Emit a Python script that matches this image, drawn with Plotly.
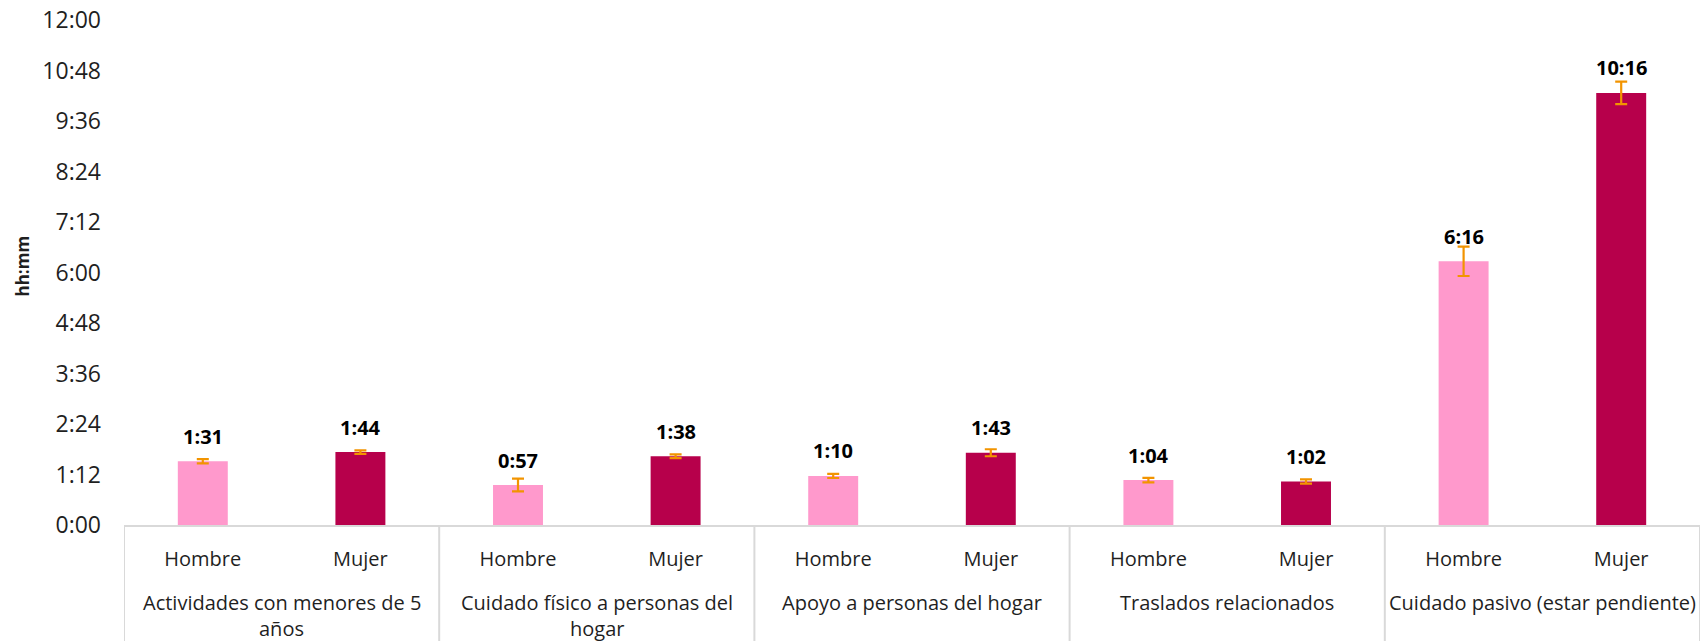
import plotly.graph_objects as go

# ---- data ----
groups = [
    "Actividades con menores de 5\naños",
    "Cuidado físico a personas del\nhogar",
    "Apoyo a personas del hogar",
    "Traslados relacionados",
    "Cuidado pasivo (estar pendiente)",
]
sexes = ["Hombre", "Mujer"]
hombre_min = [91, 57, 70, 64, 376]      # minutes
mujer_min = [104, 98, 103, 62, 616]
hombre_err = [3, 9, 3, 3.3, 21]
mujer_err = [2.5, 2.6, 5, 3, 16]
y_tickvals = [0, 72, 144, 216, 288, 360, 432, 504, 576, 648, 720]
y_ticktext = ["0:00", "1:12", "2:24", "3:36", "4:48", "6:00", "7:12", "8:24", "9:36", "10:48", "12:00"]

C_H = "#FF99CC"
C_M = "#B7004B"
C_ERR = "#F29400"
C_AX = "#D9D9D9"
C_TXT = "#1F1F1F"
FONT = "Open Sans"


def fmt(m):
    return f"{m // 60}:{m % 60:02d}"


n = len(groups)
fig = go.Figure()
for si, (sex, vals, errs, col) in enumerate([("Hombre", hombre_min, hombre_err, C_H),
                                             ("Mujer", mujer_min, mujer_err, C_M)]):
    fig.add_trace(go.Bar(
        x=[g * 2 + si for g in range(n)],
        y=vals,
        width=0.317,
        marker=dict(color=col, line=dict(width=0)),
        error_y=dict(type="data", array=errs, visible=True, color=C_ERR,
                     thickness=2.2, width=6),
        name=sex,
        showlegend=False,
    ))

ann = []
shapes = []
# value labels
for g in range(n):
    for si, vals in enumerate([hombre_min, mujer_min]):
        ann.append(dict(
            x=g * 2 + si, y=vals[g], xref="x", yref="y",
            text=f"<b>{fmt(vals[g])}</b>", showarrow=False,
            yanchor="middle", yshift=25,
            font=dict(family=FONT, size=20, color="#000000"),
        ))
# group labels (one annotation per line)
for g, name in enumerate(groups):
    for li, line in enumerate(name.split("\n")):
        ann.append(dict(
            x=g * 2 + 0.5, y=0, xref="x", yref="paper",
            text=line, showarrow=False, yanchor="top", yshift=-63 - 26 * li,
            borderpad=0,
            font=dict(family=FONT, size=20, color=C_TXT),
        ))
# dividers
for g in range(n + 1):
    shapes.append(dict(
        type="line", xref="x", yref="paper",
        x0=g * 2 - 0.5, x1=g * 2 - 0.5, y0=0, y1=-0.35,
        line=dict(color=C_AX, width=2),
    ))
# y-axis title
ann.append(dict(
    x=0, y=0.5, xref="paper", yref="paper", text="<b>hh:mm</b>",
    textangle=-90, showarrow=False, xanchor="center", yanchor="middle",
    xshift=-102, yshift=6,
    font=dict(family=FONT, size=17, color=C_TXT),
))

fig.update_layout(
    width=1700, height=641,
    margin=dict(l=124, r=0, t=20, b=116, autoexpand=False),
    plot_bgcolor="white", paper_bgcolor="white",
    barmode="overlay",
    annotations=ann,
    shapes=shapes,
    font=dict(family=FONT, color=C_TXT),
)
fig.update_xaxes(
    range=[-0.5, 2 * n - 0.5],
    tickmode="array", tickvals=list(range(2 * n)), ticktext=sexes * n,
    showline=True, linecolor=C_AX, linewidth=2,
    tickfont=dict(family=FONT, size=20, color=C_TXT),
    ticks="", ticklabelstandoff=15,
    showgrid=False, zeroline=False,
)
fig.update_yaxes(
    range=[0, 720],
    tickmode="array", tickvals=y_tickvals, ticktext=y_ticktext,
    tickfont=dict(family=FONT, size=23, color=C_TXT),
    showgrid=False, zeroline=False, showline=False,
    ticks="", ticklabelstandoff=22, ticklabeloverflow="allow",
)

fig.write_html("out.html",
               config={"displayModeBar": False},
               post_script="document.body.style.margin='0px';document.body.style.overflow='hidden';")
